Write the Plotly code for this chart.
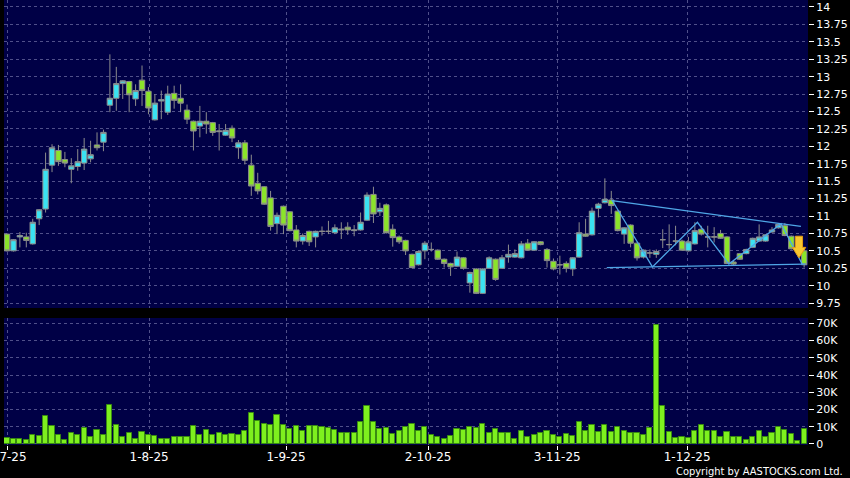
import plotly.graph_objects as go

# ---------------- data ----------------
open_ = [10.74, 10.50, 10.70, 10.70, 10.60, 10.96, 11.10, 11.73, 11.94, 11.81,
         11.67, 11.71, 11.76, 11.82, 12.02, 12.06, 12.59, 12.69, 12.90, 12.93,
         12.68, 12.95, 12.79, 12.38, 12.65, 12.49, 12.76, 12.69, 12.52, 12.36,
         12.29, 12.36, 12.34, 12.21, 12.16, 12.26, 11.98, 12.05, 11.73, 11.47,
         11.42, 11.26, 10.89, 11.14, 11.06, 10.80, 10.64, 10.78, 10.70, 10.78,
         10.78, 10.76, 10.80, 10.84, 10.79, 10.80, 10.94, 11.31, 11.06, 11.16,
         10.81, 10.70, 10.65, 10.45, 10.30, 10.50, 10.52, 10.51, 10.38, 10.32,
         10.28, 10.40, 10.04, 10.24, 9.89, 10.25, 10.38, 10.25, 10.41, 10.41,
         10.40, 10.61, 10.51, 10.63, 10.52, 10.35, 10.30, 10.32, 10.24, 10.41,
         10.74, 10.73, 11.11, 11.19, 11.23, 11.07, 10.74, 10.87, 10.61, 10.41,
         10.47, 10.45, 10.66, 10.59, 10.64, 10.64, 10.50, 10.60, 10.81, 10.70,
         10.70, 10.75, 10.70, 10.34, 10.46, 10.46, 10.55, 10.64, 10.64, 10.77,
         10.83, 10.86, 10.71, 10.53, 10.50]
high = [10.75, 10.67, 10.77, 10.76, 10.96, 11.10, 11.91, 12.03, 12.02, 11.92,
        11.83, 11.96, 12.12, 12.08, 12.20, 12.24, 13.32, 13.14, 12.95, 12.94,
        12.89, 13.16, 12.85, 12.75, 12.80, 12.87, 12.87, 12.89, 12.60, 12.37,
        12.58, 12.49, 12.35, 12.32, 12.32, 12.30, 12.09, 12.09, 11.88, 11.62,
        11.43, 11.36, 11.05, 11.15, 11.07, 10.87, 10.75, 10.79, 10.79, 10.85,
        10.93, 10.88, 10.91, 10.91, 10.87, 11.05, 11.34, 11.42, 11.19, 11.18,
        10.88, 10.72, 10.66, 10.46, 10.50, 10.64, 10.62, 10.52, 10.39, 10.33,
        10.49, 10.41, 10.20, 10.25, 10.25, 10.42, 10.39, 10.44, 10.59, 10.52,
        10.64, 10.67, 10.64, 10.64, 10.54, 10.39, 10.43, 10.35, 10.41, 10.91,
        10.96, 11.12, 11.19, 11.54, 11.36, 11.08, 10.84, 10.88, 10.62, 10.52,
        10.52, 10.52, 10.81, 10.88, 10.86, 10.66, 10.70, 10.91, 10.86, 10.86,
        10.84, 10.80, 10.71, 10.37, 10.47, 10.53, 10.69, 10.88, 10.74, 10.84,
        10.89, 10.90, 10.72, 10.56, 10.52]
low = [10.49, 10.49, 10.55, 10.55, 10.59, 10.87, 11.05, 11.63, 11.72, 11.70,
       11.47, 11.65, 11.66, 11.77, 11.94, 11.93, 12.49, 12.51, 12.68, 12.49,
       12.58, 12.58, 12.46, 12.37, 12.39, 12.45, 12.54, 12.49, 12.32, 11.94,
       12.13, 12.18, 12.15, 11.94, 12.15, 12.06, 11.82, 11.74, 11.29, 11.31,
       11.16, 10.79, 10.74, 10.74, 10.78, 10.55, 10.59, 10.57, 10.55, 10.72,
       10.74, 10.74, 10.67, 10.73, 10.71, 10.79, 10.93, 10.90, 11.00, 10.75,
       10.56, 10.60, 10.44, 10.25, 10.29, 10.38, 10.49, 10.37, 10.26, 10.14,
       10.27, 10.23, 9.90, 9.88, 9.88, 10.24, 10.07, 10.24, 10.33, 10.40,
       10.39, 10.50, 10.50, 10.58, 10.26, 10.22, 10.16, 10.19, 10.14, 10.40,
       10.70, 10.72, 10.98, 11.18, 11.03, 10.78, 10.60, 10.55, 10.36, 10.39,
       10.40, 10.40, 10.54, 10.53, 10.58, 10.50, 10.49, 10.59, 10.72, 10.55,
       10.62, 10.67, 10.31, 10.29, 10.37, 10.45, 10.54, 10.63, 10.63, 10.76,
       10.82, 10.71, 10.52, 10.47, 10.26]
close = [10.50, 10.66, 10.72, 10.65, 10.91, 11.09, 11.67, 11.98, 11.78, 11.76,
         11.72, 11.78, 11.96, 11.88, 11.98, 12.20, 12.69, 12.90, 12.94, 12.74,
         12.80, 12.80, 12.55, 12.62, 12.67, 12.75, 12.66, 12.62, 12.39, 12.22,
         12.36, 12.32, 12.20, 12.22, 12.23, 12.12, 12.05, 11.80, 11.43, 11.36,
         11.17, 10.85, 11.01, 10.87, 10.79, 10.64, 10.72, 10.63, 10.78, 10.78,
         10.78, 10.83, 10.81, 10.80, 10.80, 10.91, 11.30, 11.03, 11.11, 10.76,
         10.69, 10.63, 10.50, 10.26, 10.49, 10.61, 10.52, 10.38, 10.32, 10.27,
         10.41, 10.25, 10.19, 9.89, 10.24, 10.40, 10.09, 10.40, 10.45, 10.46,
         10.60, 10.51, 10.63, 10.59, 10.36, 10.24, 10.30, 10.25, 10.40, 10.76,
         10.71, 11.07, 11.17, 11.24, 11.15, 10.79, 10.83, 10.61, 10.40, 10.51,
         10.47, 10.49, 10.66, 10.59, 10.64, 10.51, 10.63, 10.79, 10.74, 10.70,
         10.70, 10.68, 10.32, 10.31, 10.38, 10.52, 10.68, 10.70, 10.73, 10.80,
         10.88, 10.72, 10.53, 10.50, 10.30]
volume = [3500, 3100, 2900, 2100, 5400, 4800, 16500, 10300, 5400, 2300,
          6200, 5400, 9300, 4300, 8200, 5400, 22900, 11200, 4300, 6600,
          2900, 7200, 5200, 4700, 2900, 2900, 3900, 3900, 4300, 10700,
          5000, 8200, 5400, 6600, 5000, 5800, 5400, 7800, 17900, 13600,
          11700, 11200, 17100, 11200, 8900, 10700, 7400, 10300, 10700, 9700,
          9500, 8200, 6400, 6200, 6200, 12800, 21800, 12800, 8400, 9300,
          5800, 7800, 9700, 11700, 7800, 9700, 5400, 3900, 2900, 4900,
          8400, 8200, 9700, 9300, 11700, 6200, 8700, 6600, 6600, 2900,
          7400, 3900, 5400, 6200, 7400, 5300, 4300, 5800, 4500, 13000,
          7400, 11100, 7000, 11300, 7000, 10100, 7800, 6600, 6400, 5100,
          9300, 69000, 21900, 6800, 3300, 4300, 3300, 7800, 11300, 7800,
          7800, 3900, 7000, 4300, 3900, 2300, 4300, 7400, 3900, 6600,
          9700, 8200, 5800, 1600, 8400]
idx = list(range(len(close)))

tick_labels = ["2-7-25", "1-8-25", "1-9-25", "2-10-25", "3-11-25", "1-12-25"]
tick_pos = [0, 22.1, 43.4, 65.5, 85.6, 105.8]

price_ticks = [9.75 + 0.25 * k for k in range(18)]
price_tick_text = [("%g" % v) for v in price_ticks]
vol_ticks = [0, 10000, 20000, 30000, 40000, 50000, 60000, 70000]
vol_tick_text = ["0", "10K", "20K", "30K", "40K", "50K", "60K", "70K"]

# hand-drawn triangle / zigzag lines (index, price)
upper_x = [94.1, 123.5]
upper_y = [11.22, 10.85]
lower_x = [93.3, 124.2]
lower_y = [10.26, 10.31]
zig_x = [94.1, 100.4, 107.4, 112.3, 120.4, 123.7]
zig_y = [11.23, 10.27, 10.91, 10.31, 10.89, 10.31]

# ---------------- styling ----------------
NAVY = "#000046"
CYAN = "#3ae2f2"
GREEN = "#8be42a"
WICK = "#8c8c8c"
GRID = "#50508a"
TL = "#4fa6e6"

fig = go.Figure()
fig.add_trace(go.Candlestick(
    x=idx, open=open_, high=high, low=low, close=close,
    increasing=dict(fillcolor=CYAN, line=dict(color=WICK, width=1)),
    decreasing=dict(fillcolor=GREEN, line=dict(color=WICK, width=1)),
    whiskerwidth=0, xaxis="x", yaxis="y", showlegend=False, hoverinfo="skip"))

for xs, ys in [(upper_x, upper_y), (lower_x, lower_y), (zig_x, zig_y)]:
    fig.add_trace(go.Scatter(x=xs, y=ys, mode="lines",
                             line=dict(color=TL, width=1.3),
                             xaxis="x", yaxis="y", showlegend=False,
                             hoverinfo="skip"))

fig.add_trace(go.Bar(x=idx, y=volume, width=0.8,
                     marker=dict(color="#7ef01e",
                                 line=dict(color="#3a8c12", width=1)),
                     xaxis="x2", yaxis="y2", showlegend=False,
                     hoverinfo="skip"))

# yellow down arrow marker near last candle
ax = 123.2
fig.add_shape(type="path", xref="x", yref="y",
              path=(f"M {ax-0.55},10.71 L {ax+0.55},10.71 L {ax+0.55},10.55 "
                    f"L {ax+1.05},10.55 L {ax},10.40 L {ax-1.05},10.55 "
                    f"L {ax-0.55},10.55 Z"),
              fillcolor="#f8c630", line=dict(color="#e59b12", width=1))

axis_font = dict(family="DejaVu Sans", size=11, color="white")
grid_common = dict(showgrid=True, gridcolor=GRID, griddash="3px,3px",
                   gridwidth=1, zeroline=False, showline=False,
                   automargin=False)

fig.update_layout(
    width=850, height=478,
    margin=dict(l=4, r=42, t=0, b=33, autoexpand=False),
    paper_bgcolor="black", plot_bgcolor=NAVY,
    bargap=0, boxgap=0.16, boxgroupgap=0, showlegend=False,
    xaxis=dict(domain=[0, 1], range=[-0.47, 124.6], anchor="y",
               tickvals=tick_pos, showticklabels=False, ticks="",
               rangeslider=dict(visible=False), **grid_common),
    yaxis=dict(domain=[0.3079, 1], range=[9.68, 14.1], side="right",
               anchor="x", tickvals=price_ticks, ticktext=price_tick_text,
               ticks="outside", ticklen=5, tickcolor="white",
               tickfont=axis_font, ticklabeloverflow="allow", **grid_common),
    xaxis2=dict(domain=[0, 1], range=[-0.47, 124.6], anchor="y2",
                matches="x", tickvals=tick_pos, ticktext=tick_labels,
                ticks="outside", ticklen=4, tickcolor="white",
                ticklabelstandoff=-3, ticklabeloverflow="allow",
                tickfont=dict(family="DejaVu Sans", size=12, color="white"),
                **grid_common),
    yaxis2=dict(domain=[0, 0.2854], range=[-600, 73100], side="right",
                anchor="x2", tickvals=vol_ticks, ticktext=vol_tick_text,
                ticks="outside", ticklen=5, tickcolor="white",
                tickfont=axis_font, ticklabeloverflow="allow", **grid_common),
    annotations=[dict(text="Copyright by AASTOCKS.com Ltd.", xref="paper",
                      yref="paper", x=1.046, y=-0.0595, xanchor="right",
                      yanchor="middle", showarrow=False,
                      font=dict(family="DejaVu Sans Condensed, DejaVu Sans",
                                size=11, color="white"))],
)

fig.write_html("out.html",
               config={"displayModeBar": False},
               post_script="document.body.style.margin='0';"
                           "document.body.style.padding='0';"
                           "document.body.style.background='black';")
